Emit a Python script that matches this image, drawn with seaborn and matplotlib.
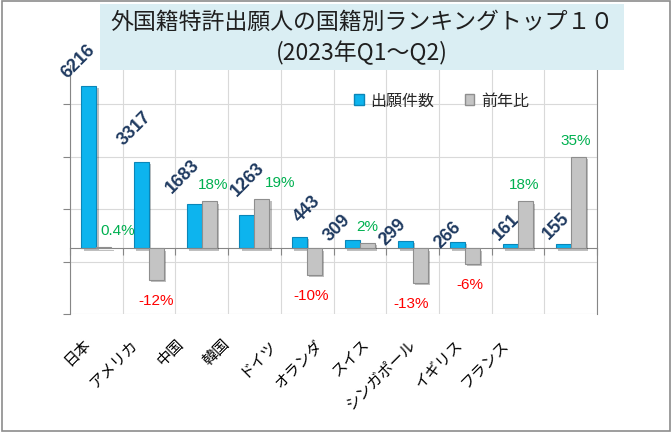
# 外国籍特許出願人の国籍別ランキング (bar chart, two scales)

import numpy as np
import pandas as pd
import matplotlib.pyplot as plt
import matplotlib.patheffects as pe
from matplotlib.patches import Rectangle, Patch
import seaborn as sns

# data
countries = ['日本', 'アメリカ', '中国', '韓国', 'ドイツ', 'オランダ', 'スイス', 'シンガポール', 'イギリス', 'フランス']
counts = [6216, 3317, 1683, 1263, 443, 309, 299, 266, 161, 155]
yoy = [0.004, -0.12, 0.18, 0.19, -0.10, 0.02, -0.13, -0.06, 0.18, 0.35]
yoy_labels = ['0.4%', '-12%', '18%', '19%', '-10%', '2%', '-13%', '-6%', '18%', '35%']
count_ticks = [-2500, -500, 1500, 3500, 5500]

# label nudges (pixels) to follow the original layout
num_shift = [(-11, 25), (-7, 34), (-11, 29), (1, 37), (8, 29), (-15, 13), (-12, 9), (-10, 7), (-4, 18), (-7, 19)]
pct_shift_x = [14, 0, 4, 18, -4, 0, -9, -3, -1, -2]

BLUE = '#0DB4EE'
BLUE_EDGE = '#0A86B8'
GRAY = '#C4C4C4'
GRAY_EDGE = '#8E8E8E'
AXIS_GRAY = '#868686'
GRID = '#D9D9D9'

sns.set_style('white')
plt.rcParams['font.family'] = ['Liberation Sans', 'Noto Sans CJK JP', 'DejaVu Sans']

df = pd.DataFrame({'country': countries, 'count': counts, 'yoy': yoy})
df['pos'] = np.arange(len(df))
bw = 0.285
df['x_count'] = df['pos'] - bw / 2
df['x_yoy'] = df['pos'] + bw / 2

fig = plt.figure(figsize=(6.72, 4.35), dpi=100)
ax = fig.add_axes([70 / 672, 1 - 315 / 435, 527 / 672, 249 / 435])
ax2 = ax.twinx()

sns.barplot(data=df, x='x_count', y='count', native_scale=True, width=bw, saturation=1,
            color=BLUE, edgecolor=BLUE_EDGE, linewidth=0.8, errorbar=None, ax=ax)
sns.barplot(data=df, x='x_yoy', y='yoy', native_scale=True, width=bw, saturation=1,
            color=GRAY, edgecolor=GRAY_EDGE, linewidth=0.8, errorbar=None, ax=ax2)

shadow = [pe.SimplePatchShadow(offset=(1.6, -1.6), shadow_rgbFace='black', alpha=0.25), pe.Normal()]
for p in ax.patches + ax2.patches:
    p.set_path_effects(shadow)

# scales
ax.set_ylim(-2500, 7000)
ax2.set_ylim(-0.25, 0.70)
ax.set_xlim(-0.5, len(countries) - 0.5)

ax.set_yticks(count_ticks)
ax.set_yticklabels([])
ax.set_xticks([])
ax.set_xticks(np.arange(-0.5, len(countries), 1), minor=True)
ax.tick_params(axis='y', length=5, color=AXIS_GRAY, width=0.8)
ax.tick_params(axis='x', which='minor', direction='out', length=5, color=AXIS_GRAY, width=0.8, bottom=True)
ax.grid(axis='y', which='major', color=GRID, lw=0.8)
ax.grid(axis='x', which='minor', color=GRID, lw=0.8)
ax.set_axisbelow(True)
ax.set_xlabel('')
ax.set_ylabel('')
ax2.set_ylabel('')
ax2.set_yticks([])
ax2.tick_params(axis='both', length=0, labelright=False, labelbottom=False)

ax.spines['bottom'].set_position(('data', 0))
ax.spines['bottom'].set_color(AXIS_GRAY)
ax.spines['left'].set_color(AXIS_GRAY)
ax.spines['top'].set_visible(False)
ax.spines['right'].set_visible(False)
for s in ['left', 'top', 'bottom']:
    ax2.spines[s].set_visible(False)
ax2.spines['right'].set_color(AXIS_GRAY)

# count labels (rotated, navy)
for i, row in df.iterrows():
    dx, dy = num_shift[i]
    ax.annotate(f"{row['count']}", xy=(row['x_count'], row['count']), xytext=(dx, dy),
                textcoords='offset pixels', ha='center', va='center', rotation=45,
                fontsize=13, fontweight='bold', color='#1F3A60', zorder=5)

# year-on-year labels
for i, row in df.iterrows():
    up = row['yoy'] >= 0
    ax2.annotate(yoy_labels[i], xy=(row['x_yoy'], row['yoy']),
                 xytext=(pct_shift_x[i], 17 if up else -20), textcoords='offset pixels',
                 ha='center', va='center', fontsize=11,
                 color='#00B050' if up else '#FF0000', zorder=5)

# category labels (Excel squeezes them a bit to the left)
for i, name in enumerate(countries):
    ax.annotate(name, xy=(-0.158 + 0.882 * i, 0), xycoords=('data', 'axes fraction'),
                xytext=(0, -27), textcoords='offset pixels', rotation=45,
                rotation_mode='anchor', ha='right', va='center',
                fontsize=11, family='Noto Sans CJK JP', color='black')

# legend
handles = [Patch(facecolor=BLUE, edgecolor=BLUE_EDGE), Patch(facecolor=GRAY, edgecolor=GRAY_EDGE)]
ax.legend(handles, ['出願件数', '前年比'], loc='center', bbox_to_anchor=(0.705, 0.857),
          ncol=2, frameon=False, handlelength=0.6, handleheight=0.6, handletextpad=0.4,
          columnspacing=1.9, prop={'family': 'Noto Sans CJK JP', 'size': 11.5})

# title box
fig.add_artist(Rectangle((100 / 672, 1 - 71 / 435), 524 / 672, 66 / 435, transform=fig.transFigure,
                         facecolor='#DAEEF3', edgecolor='none', zorder=5))
fig.text(362 / 672, 1 - 22.5 / 435, '外国籍特許出願人の国籍別ランキングトップ１０', ha='center', va='center',
         fontsize=16.5, family='Noto Sans CJK JP', color='#1F1F1F', zorder=6)
fig.text(362 / 672, 1 - 53 / 435, '(2023年Q1～Q2)', ha='center', va='center',
         fontsize=16.5, family='Noto Sans CJK JP', color='#1F1F1F', zorder=6)

# chart frame
fig.add_artist(Rectangle((1.5 / 672, 3 / 435), 668 / 672, 430 / 435, transform=fig.transFigure,
                         fill=False, edgecolor='#8C8C8C', lw=1.2, zorder=7))

fig.savefig('out.png', dpi=100)
